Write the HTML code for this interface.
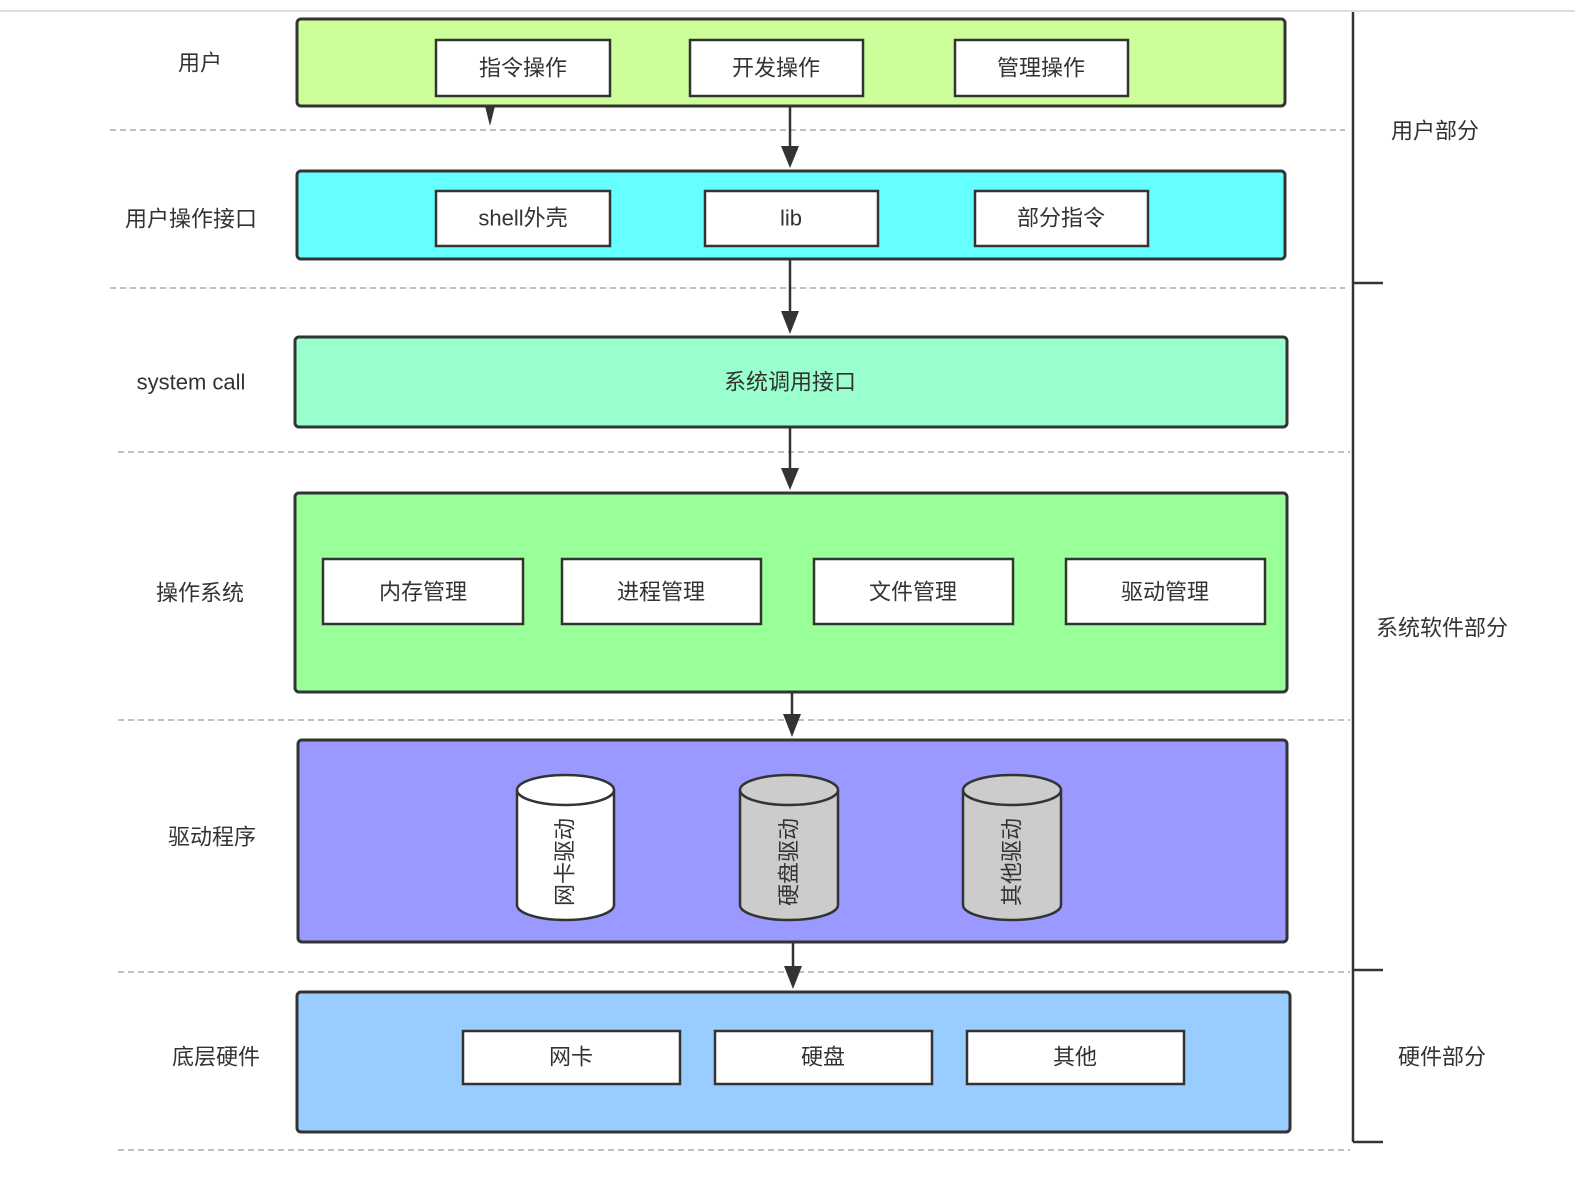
<!DOCTYPE html>
<html><head><meta charset="utf-8"><style>
html,body{margin:0;padding:0;background:#fff;}
svg{display:block;}
text{font-family:"Liberation Sans","Noto Sans CJK SC",sans-serif;fill:#333;font-size:22px;}
</style></head><body>
<svg width="1575" height="1187" viewBox="0 0 1575 1187" xmlns="http://www.w3.org/2000/svg">
<line x1="0" y1="11" x2="1575" y2="11" stroke="#ddd" stroke-width="2"/>
<g stroke="#aaa" stroke-width="1.5" stroke-dasharray="6,4">
<line x1="110" y1="130" x2="1345" y2="130"/>
<line x1="110" y1="288" x2="1345" y2="288"/>
<line x1="118" y1="452" x2="1350" y2="452"/>
<line x1="118" y1="720" x2="1350" y2="720"/>
<line x1="118" y1="972" x2="1350" y2="972"/>
<line x1="118" y1="1150" x2="1350" y2="1150"/>
</g>
<g stroke="#333" stroke-width="3">
<rect x="297" y="19" width="988" height="87" rx="4" fill="#CCFF99"/>
<rect x="297" y="171" width="988" height="88" rx="4" fill="#66FFFF"/>
<rect x="295" y="337" width="992" height="90" rx="4" fill="#99FFCC"/>
<rect x="295" y="493" width="992" height="199" rx="4" fill="#99FF99"/>
<rect x="298" y="740" width="989" height="202" rx="4" fill="#9999FF"/>
<rect x="297" y="992" width="993" height="140" rx="4" fill="#99CCFF"/>
</g>
<g stroke="#333" stroke-width="2.5" fill="#fff">
<rect x="436" y="40" width="174" height="56"/>
<rect x="690" y="40" width="173" height="56"/>
<rect x="955" y="40" width="173" height="56"/>
<rect x="436" y="191" width="174" height="55"/>
<rect x="705" y="191" width="173" height="55"/>
<rect x="975" y="191" width="173" height="55"/>
<rect x="323" y="559" width="200" height="65"/>
<rect x="562" y="559" width="199" height="65"/>
<rect x="814" y="559" width="199" height="65"/>
<rect x="1066" y="559" width="199" height="65"/>
<rect x="463" y="1031" width="217" height="53"/>
<rect x="715" y="1031" width="217" height="53"/>
<rect x="967" y="1031" width="217" height="53"/>
</g>
<g stroke="#333" stroke-width="2.5">
<path d="M517,790 L517,905 A48.5,15 0 0 0 614,905 L614,790" fill="#fff"/>
<ellipse cx="565.5" cy="790" rx="48.5" ry="15" fill="#fff"/>
<path d="M740,790 L740,905 A49,15 0 0 0 838,905 L838,790" fill="#ccc"/>
<ellipse cx="789" cy="790" rx="49" ry="15" fill="#ccc"/>
<path d="M963,790 L963,905 A49,15 0 0 0 1061,905 L1061,790" fill="#ccc"/>
<ellipse cx="1012" cy="790" rx="49" ry="15" fill="#ccc"/>
</g>
<g stroke="#333" stroke-width="2.5">
<line x1="790" y1="106" x2="790" y2="150"/>
<line x1="790" y1="259" x2="790" y2="315"/>
<line x1="790" y1="427" x2="790" y2="472"/>
<line x1="792" y1="692" x2="792" y2="718"/>
<line x1="793" y1="942" x2="793" y2="970"/>
</g>
<g fill="#333">
<polygon points="485,106 495,106 490,126"/>
<polygon points="781,146 799,146 790,168"/>
<polygon points="781,311 799,311 790,334"/>
<polygon points="781,468 799,468 790,490"/>
<polygon points="783,714 801,714 792,737"/>
<polygon points="784,966 802,966 793,989"/>
</g>
<g stroke="#333" stroke-width="2.5" fill="none">
<line x1="1353" y1="12" x2="1353" y2="1142"/>
<line x1="1353" y1="283" x2="1383" y2="283"/>
<line x1="1353" y1="970" x2="1383" y2="970"/>
<line x1="1353" y1="1142" x2="1383" y2="1142"/>
</g>
<g text-anchor="middle" dominant-baseline="central">
<text x="523" y="68">指令操作</text>
<text x="776" y="68">开发操作</text>
<text x="1041" y="68">管理操作</text>
<text x="523" y="218">shell外壳</text>
<text x="791" y="218">lib</text>
<text x="1061" y="218">部分指令</text>
<text x="790" y="382">系统调用接口</text>
<text x="423" y="592">内存管理</text>
<text x="661" y="592">进程管理</text>
<text x="913" y="592">文件管理</text>
<text x="1165" y="592">驱动管理</text>
<text x="571" y="1057">网卡</text>
<text x="823" y="1057">硬盘</text>
<text x="1075" y="1057">其他</text>
<text x="200" y="63">用户</text>
<text x="191" y="219">用户操作接口</text>
<text x="191" y="382">system call</text>
<text x="200" y="593">操作系统</text>
<text x="212" y="837">驱动程序</text>
<text x="216" y="1057">底层硬件</text>
<text x="1435" y="131">用户部分</text>
<text x="1442" y="628">系统软件部分</text>
<text x="1442" y="1057">硬件部分</text>
<text transform="translate(565,862) rotate(-90)" font-size="20">网卡驱动</text>
<text transform="translate(789,862) rotate(-90)" font-size="20">硬盘驱动</text>
<text transform="translate(1012,862) rotate(-90)" font-size="20">其他驱动</text>
</g>
</svg>
</body></html>
